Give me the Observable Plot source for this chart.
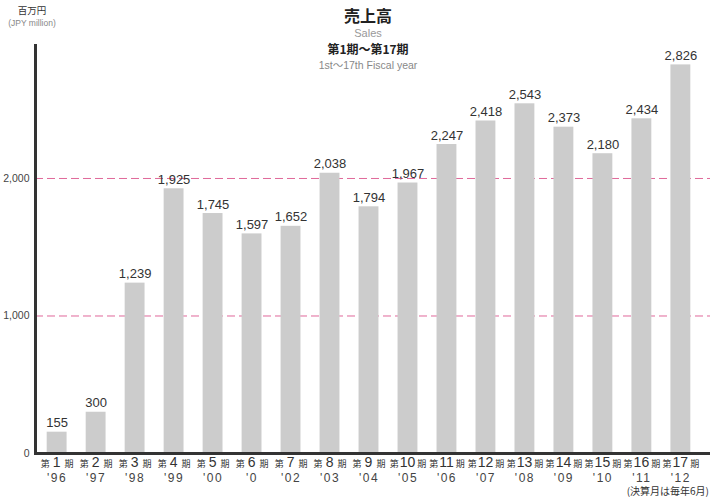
<!DOCTYPE html>
<html>
<head>
<meta charset="utf-8">
<script src="https://cdn.jsdelivr.net/npm/d3@7"></script>
<script src="https://cdn.jsdelivr.net/npm/@observablehq/plot@0.6"></script>
<style>
  html, body { margin: 0; padding: 0; background: #fff; }
  body { font-family: "Liberation Sans", "Noto Sans CJK JP", sans-serif; }
  #wrap { position: relative; width: 720px; height: 500px; }
  .ov { position: absolute; white-space: nowrap; line-height: 1; }
  .jp { font-family: "Noto Sans CJK JP", sans-serif; }
</style>
</head>
<body>
<div id="wrap">
  <div class="ov jp" style="left:368px;top:7px;transform:translateX(-50%);font-size:16px;font-weight:bold;color:#222;">売上高</div>
  <div class="ov" style="left:368px;top:28px;transform:translateX(-50%);font-size:11px;color:#999;">Sales</div>
  <div class="ov jp" style="left:368px;top:43px;transform:translateX(-50%);font-size:12px;font-weight:bold;color:#222;">第1期～第17期</div>
  <div class="ov" style="left:368px;top:60px;transform:translateX(-50%);font-size:10.5px;color:#888;">1st～17th Fiscal year</div>
  <div class="ov jp" style="left:32px;top:6px;transform:translateX(-50%);font-size:9.5px;color:#333;">百万円</div>
  <div class="ov" style="left:32px;top:19px;transform:translateX(-50%);font-size:8.5px;color:#888;">(JPY million)</div>
  <div class="ov jp" style="right:11px;top:486px;font-size:10px;color:#333;">(決算月は毎年6月)</div>
</div>
<script>
const periods = ["1","2","3","4","5","6","7","8","9","10","11","12","13","14","15","16","17"];
const years = ["'96","'97","'98","'99","'00","'0","'02","'03","'04","'05","'06","'07","'08","'09","'10","'11","'12"];
const sales = [155, 300, 1239, 1925, 1745, 1597, 1652, 2038, 1794, 1967, 2247, 2418, 2543, 2373, 2180, 2434, 2826];
const yTicks = [0, 1000, 2000];
const gridLines = [1000, 2000];

const data = periods.map((p, i) => ({period: p, year: years[i], value: sales[i]}));

const chart = Plot.plot({
  width: 720,
  height: 500,
  marginLeft: 35,
  marginRight: 10,
  marginTop: 45,
  marginBottom: 47,
  style: {fontFamily: "\"Liberation Sans\", \"Noto Sans CJK JP\", sans-serif", background: "transparent"},
  x: {domain: periods, range: [35, 702], paddingInner: 0.49, paddingOuter: 0.3, round: false, axis: null},
  y: {domain: [0, 2967], axis: null},
  marks: [
    Plot.ruleY(gridLines, {stroke: "#e0689a", strokeWidth: 1, strokeDasharray: "8,4"}),
    Plot.barY(data, {x: "period", y: "value", fill: "#cccccc"}),
    Plot.text(data, {x: "period", y: "value", text: d => d3.format(",")(d.value), lineAnchor: "bottom", dy: -5, fontSize: 13, fill: "#333"}),
    Plot.axisY({ticks: yTicks, tickSize: 0, tickPadding: 6, tickFormat: d3.format(","), fontSize: 10.5, color: "#444", anchor: "left", label: null}),
    Plot.ruleY([0], {stroke: "#333", strokeWidth: 3}),
    Plot.frame({anchor: "left", stroke: "#333", strokeWidth: 3}),
    Plot.text(data, {x: "period", frameAnchor: "bottom", text: "period", dy: 13, fontSize: 14, fill: "#333", className: "ptick"}),
    Plot.text(data, {x: "period", frameAnchor: "bottom", text: "year", dy: 28, fontSize: 12, fill: "#444", className: "ytick"})
  ]
});

document.getElementById("wrap").prepend(chart);
chart.style.position = "absolute";
chart.style.left = "0";
chart.style.top = "0";

d3.select(chart).selectAll("g.ytick text").style("letter-spacing", "1.5px");

// Render "第 N 期" with small kanji around a larger numeral
d3.select(chart).selectAll("g.ptick text").each(function() {
  const t = d3.select(this);
  const n = t.text();
  t.text(null);
  t.append("tspan").attr("font-size", 9).attr("font-family", "\"Noto Sans CJK JP\", sans-serif").text("第");
  t.append("tspan").attr("dx", n.length > 1 ? 1 : 3).text(n);
  t.append("tspan").attr("font-size", 9).attr("font-family", "\"Noto Sans CJK JP\", sans-serif").attr("dx", n.length > 1 ? 2 : 4).text("期");
});
</script>
</body>
</html>
